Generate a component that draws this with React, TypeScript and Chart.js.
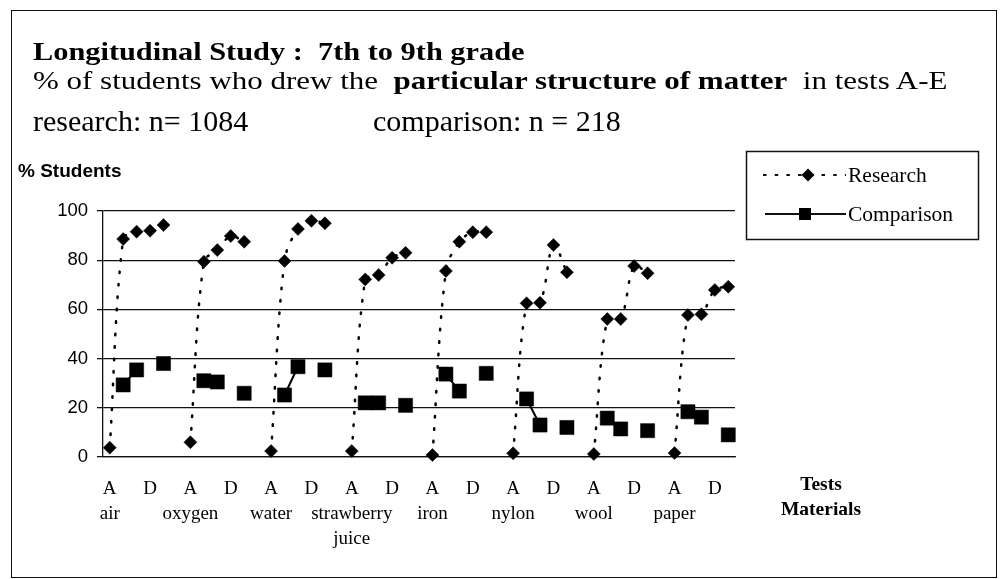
import React, { useEffect, useRef } from 'react';
import { Chart, registerables } from 'chart.js';

Chart.register(...registerables);

// ---- data ----
const materials: string[][] = [
  ['air'], ['oxygen'], ['water'], ['strawberry', 'juice'],
  ['iron'], ['nylon'], ['wool'], ['paper'],
];
const tests = ['A', 'B', 'C', 'D', 'E'];
const shownTests = ['A', 'D'];
const yTicks = [0, 20, 40, 60, 80, 100];

// research, tests A-E for each material (in material order)
const research = [
  3.8, 88.6, 91.6, 92.0, 94.3,
  6.0, 79.4, 84.1, 89.8, 87.5,
  2.4, 79.7, 92.7, 96.0, 95.0,
  2.4, 72.2, 74.0, 81.0, 83.0,
  0.8, 75.6, 87.5, 91.4, 91.4,
  1.5, 62.5, 62.7, 86.2, 75.1,
  1.2, 56.1, 56.1, 77.6, 74.7,
  1.6, 57.7, 58.0, 67.9, 69.2,
];
// comparison, tests A-E (A and D not available)
const comparison: (number | null)[] = [
  null, 29.3, 35.4, null, 38.0,
  null, 31.0, 30.5, null, 25.9,
  null, 25.2, 36.7, null, 35.4,
  null, 22.0, 22.0, null, 21.0,
  null, 33.7, 26.8, null, 34.0,
  null, 23.6, 13.0, null, 12.0,
  null, 15.8, 11.4, null, 10.7,
  null, 18.4, 16.2, null, 9.0,
];
const seriesNames = ['Research', 'Comparison'];

// ---- build category slots: 5 tests per material + 1 empty slot between groups ----
const slotKeys: string[] = [];
const xTickLabels: (string | string[])[] = [];
const researchData: (number | null)[] = [];
const comparisonData: (number | null)[] = [];
materials.forEach((m, g) => {
  tests.forEach((t, ti) => {
    slotKeys.push(m.join(' ') + ' ' + t);
    let lbl: string | string[] = shownTests.includes(t) ? t : '';
    if (ti === 0) lbl = [t, ...m];
    xTickLabels.push(lbl);
    researchData.push(research[g * tests.length + ti]);
    comparisonData.push(comparison[g * tests.length + ti]);
  });
  if (g < materials.length - 1) {
    slotKeys.push('gap' + g);
    xTickLabels.push('');
    researchData.push(null);
    comparisonData.push(null);
  }
});

const serif = '"Liberation Serif", "Times New Roman", serif';
const sans = '"Liberation Sans", Arial, sans-serif';

const overlayPlugin = {
  id: 'overlay',
  afterDraw(chart: any) {
    const ctx: CanvasRenderingContext2D = chart.ctx;
    const ds = chart.data.datasets;
    ctx.save();
    // legend box
    ctx.strokeStyle = '#111';
    ctx.lineWidth = 1.5;
    ctx.setLineDash([]);
    ctx.strokeRect(746.5, 151.5, 232, 88);
    // research entry
    const ry = 175;
    ctx.lineWidth = 2;
    ctx.setLineDash([3.5, 8.2]);
    ctx.beginPath();
    ctx.moveTo(763, ry);
    ctx.lineTo(846, ry);
    ctx.stroke();
    ctx.setLineDash([]);
    ctx.fillStyle = '#000';
    ctx.beginPath();
    ctx.moveTo(808, ry - 6.5);
    ctx.lineTo(814.5, ry);
    ctx.lineTo(808, ry + 6.5);
    ctx.lineTo(801.5, ry);
    ctx.closePath();
    ctx.fill();
    // comparison entry
    const cy = 214;
    ctx.lineWidth = 2;
    ctx.beginPath();
    ctx.moveTo(765, cy);
    ctx.lineTo(846, cy);
    ctx.stroke();
    ctx.fillRect(799, cy - 6, 12, 12);
    // legend text
    ctx.font = '21.5px ' + serif;
    ctx.textBaseline = 'alphabetic';
    ctx.textAlign = 'left';
    ctx.fillText(ds[0].label, 848, ry + 7);
    ctx.fillText(ds[1].label, 848, cy + 7);
    // axis titles
    ctx.font = 'bold 19px ' + sans;
    ctx.fillText('% Students', 18, 177);
    ctx.font = 'bold 19.5px ' + serif;
    ctx.textAlign = 'center';
    ctx.fillText('Tests', 821, 490);
    ctx.fillText('Materials', 821, 515);
    ctx.restore();
  },
};

export default function App() {
  const ref = useRef<HTMLCanvasElement | null>(null);

  useEffect(() => {
    if (!ref.current) return;
    const chart = new Chart(ref.current, {
      type: 'line',
      data: {
        labels: slotKeys,
        datasets: [
          {
            label: seriesNames[0],
            data: researchData,
            borderColor: '#000',
            backgroundColor: '#000',
            borderWidth: 2.5,
            borderDash: [1.5, 11],
            borderCapStyle: 'round',
            tension: 0.35,
            spanGaps: false,
            pointStyle: 'rectRot',
            pointRadius: 6.5,
            pointBackgroundColor: '#000',
            pointBorderColor: '#000',
            pointBorderWidth: 0.5,
            clip: false,
          } as any,
          {
            label: seriesNames[1],
            data: comparisonData,
            borderColor: '#000',
            backgroundColor: '#000',
            borderWidth: 2,
            tension: 0,
            spanGaps: false,
            pointStyle: 'rect',
            pointRadius: 10,
            pointBackgroundColor: '#000',
            pointBorderColor: '#000',
            pointBorderWidth: 0.5,
            clip: false,
          } as any,
        ],
      },
      options: {
        responsive: false,
        animation: false,
        devicePixelRatio: 1,
        layout: { padding: { left: 0, top: 211, right: 267, bottom: 22 } },
        plugins: {
          legend: { display: false },
          tooltip: { enabled: false },
          title: { display: false },
        },
        scales: {
          x: {
            type: 'category',
            offset: true,
            grid: { display: false, drawTicks: false },
            border: { display: true, color: '#111', width: 1.3 },
            ticks: {
              autoSkip: false,
              maxRotation: 0,
              minRotation: 0,
              padding: 20,
              color: '#000',
              font: { family: serif, size: 19, lineHeight: '25px' },
              callback: (_v: any, i: number) => xTickLabels[i],
            },
            afterFit: (s: any) => { s.height = 100; },
          },
          y: {
            min: yTicks[0],
            max: yTicks[yTicks.length - 1],
            afterBuildTicks: (s: any) => { s.ticks = yTicks.map((v) => ({ value: v })); },
            ticks: {
              padding: 9,
              color: '#000',
              font: { family: sans, size: 18.5 },
            },
            grid: { color: '#111', lineWidth: 1.3, tickLength: 6, drawTicks: true },
            border: { display: true, color: '#111', width: 1.3 },
            afterFit: (s: any) => { s.width = 103; },
          },
        },
      } as any,
      plugins: [overlayPlugin],
    });
    return () => chart.destroy();
  }, []);

  const line: React.CSSProperties = {
    position: 'absolute',
    left: 33,
    whiteSpace: 'pre',
    lineHeight: 1,
    color: '#000',
    fontFamily: serif,
    transformOrigin: 'left top',
  };

  return (
    <div style={{ position: 'fixed', left: 0, top: 0, width: 1002, height: 579, background: '#fff', overflow: 'hidden' }}>
      <div style={{ position: 'absolute', left: 11, top: 10, width: 986, height: 568, border: '1.5px solid #111', boxSizing: 'border-box' }} />
      <canvas ref={ref} width={1002} height={579} style={{ position: 'absolute', left: 0, top: 0 }} />
      <div style={{ ...line, top: 60 - 21.4, fontSize: 25.5, fontWeight: 'bold', transform: 'scaleX(1.19)' }}>
        Longitudinal Study :  7th to 9th grade
      </div>
      <div style={{ ...line, top: 89 - 21.4, fontSize: 25.5, transform: 'scaleX(1.215)' }}>
        % of students who drew the  <b>particular structure of matter</b>  in tests A-E
      </div>
      <div style={{ ...line, top: 131 - 25.1, fontSize: 30 }}>
        research: n= 1084
      </div>
      <div style={{ ...line, left: 373, top: 131 - 25.1, fontSize: 30 }}>
        comparison: n = 218
      </div>
    </div>
  );
}
